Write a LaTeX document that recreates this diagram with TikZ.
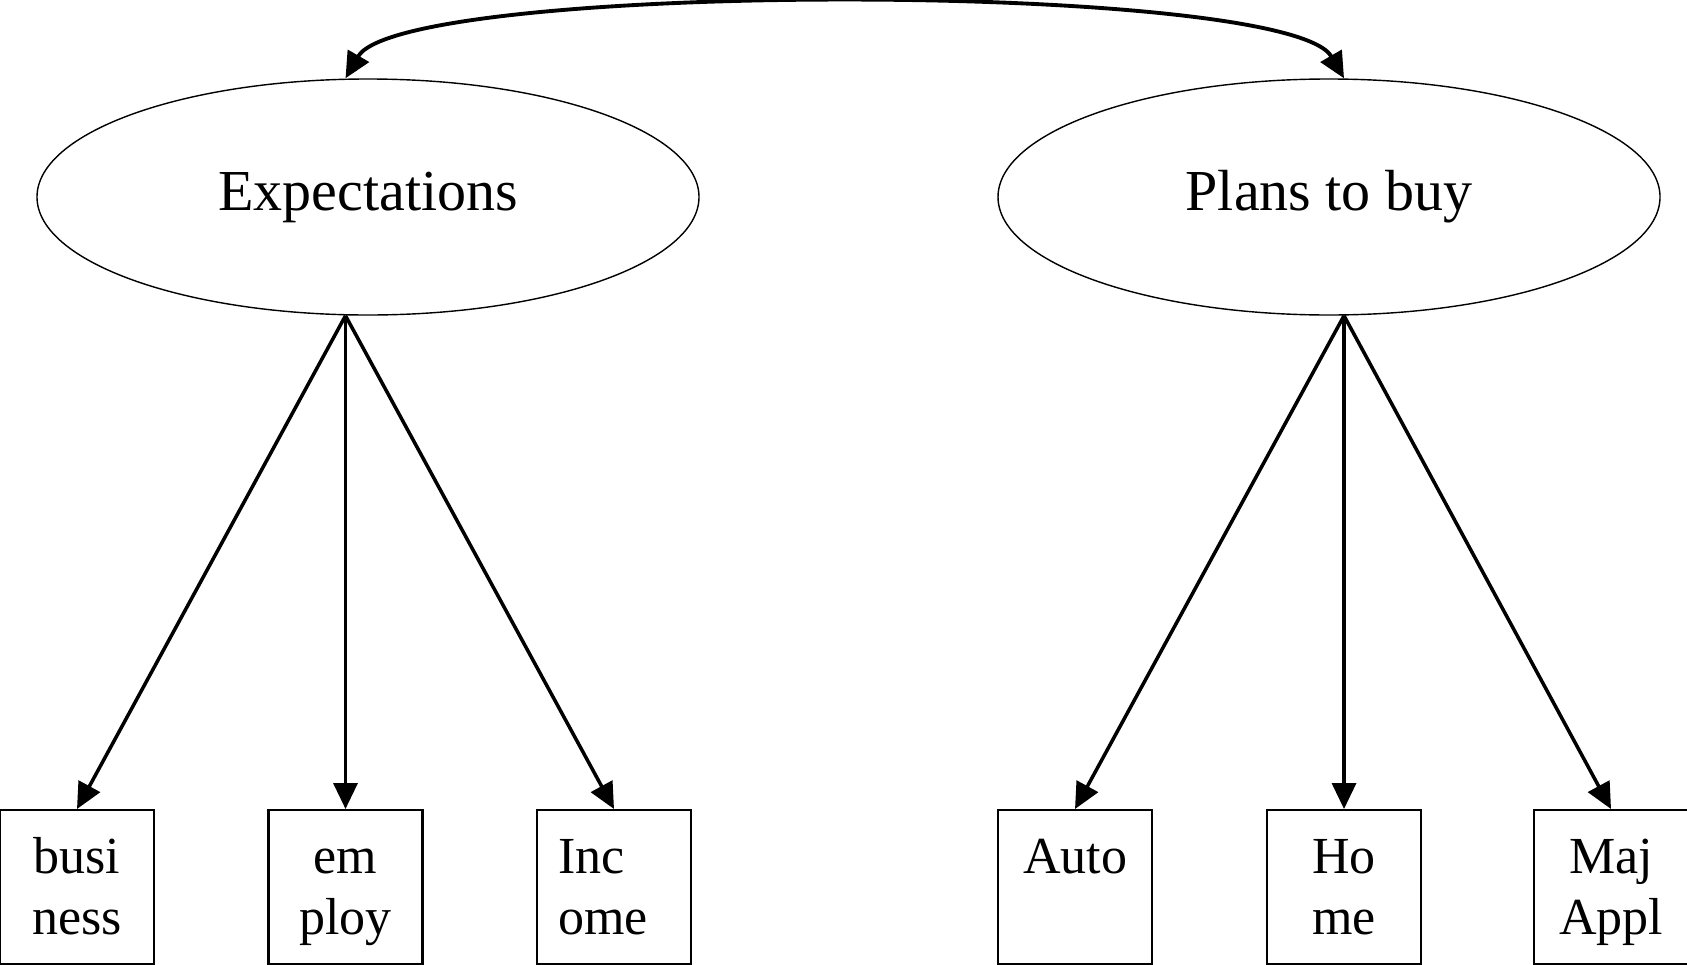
\documentclass[tikz,border=0pt]{standalone}
\usepackage{fontspec}
\setmainfont{Liberation Serif}
\usetikzlibrary{shapes.geometric, arrows.meta}

\begin{document}
\begin{tikzpicture}[
  >={Triangle[length=2.6mm, width=2.4mm]},
  latent/.style={ellipse, draw, line width=0.4pt, minimum width=6.62cm, minimum height=2.36cm,
                 inner sep=0pt, font=\fontsize{16.5}{20}\selectfont},
  indic/.style={rectangle, draw, line width=0.6pt, anchor=north, inner sep=0pt, text width=1.54cm,
                align=center, text height=0.635cm, text depth=0.905cm, font=\fontsize{14.8}{17.4}\selectfont},
  arr/.style={->, line width=1pt},
]
  \useasboundingbox (0,0) rectangle (16.87,-9.64);

  \node[latent] (exq) at (3.68,-1.97)  {Expectations};
  \node[latent] (pln) at (13.29,-1.97) {Plans to buy};

  \node[indic] (bus) at (0.77,-8.09)  {busi\\ness};
  \node[indic] (emp) at (3.455,-8.09) {em\\ploy};
  \node[indic, align=left, text width=1.12cm, inner xsep=0.21cm] (inc) at (6.14,-8.09) {Inc\\ome};
  \node[indic] (aut) at (10.75,-8.09) {Auto};
  \node[indic] (hom) at (13.44,-8.09) {Ho\\me};
  \node[indic] (maj) at (16.11,-8.09) {Maj\\Appl};

  \draw[arr] (emp.north |- exq.south) -- (bus.north);
  \draw[arr] (emp.north |- exq.south) -- (emp.north);
  \draw[arr] (emp.north |- exq.south) -- (inc.north);
  \draw[arr] (hom.north |- pln.south) -- (aut.north);
  \draw[arr] (hom.north |- pln.south) -- (hom.north);
  \draw[arr] (hom.north |- pln.south) -- (maj.north);
  \draw[arr, <->, line width=1.1pt] (emp.north |- exq.north) to[out=60, in=120, looseness=0.29] (hom.north |- pln.north);
\end{tikzpicture}
\end{document}
